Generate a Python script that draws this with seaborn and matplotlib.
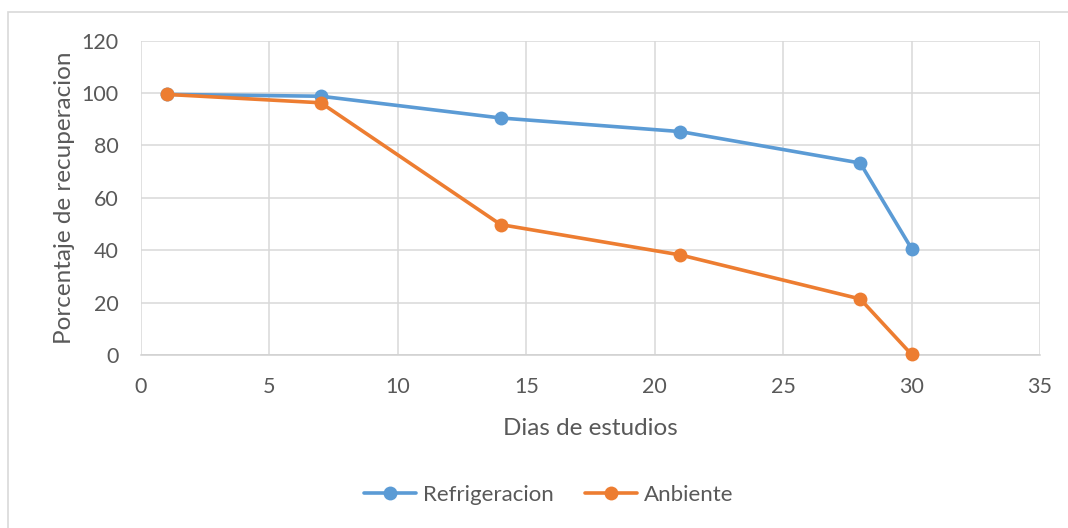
import matplotlib
matplotlib.use("Agg")
import matplotlib.pyplot as plt
from matplotlib.patches import Rectangle
from matplotlib.lines import Line2D
import seaborn as sns
import pandas as pd

# Recovery percentage over days of study
dias = [1, 7, 14, 21, 28, 30]
refrigeracion = [99.5, 98.8, 90.5, 85.3, 73.3, 40.6]
ambiente = [99.5, 96.3, 49.8, 38.2, 21.4, 0.2]
series_names = ["Refrigeracion", "Anbiente"]
x_ticks = [0, 5, 10, 15, 20, 25, 30, 35]
y_ticks = [0, 20, 40, 60, 80, 100, 120]

colors = {"Refrigeracion": "#5B9BD5", "Anbiente": "#ED7D31"}

df = pd.DataFrame({
    "dias": dias * 2,
    "valor": refrigeracion + ambiente,
    "serie": [series_names[0]] * len(dias) + [series_names[1]] * len(dias),
})

sns.set_theme(style="white")
plt.rcParams["font.family"] = ["Lato", "DejaVu Sans"]

fig = plt.figure(figsize=(10.68, 5.28), dpi=100)
ax = fig.add_axes([141 / 1068, 1 - 355 / 528, (1040 - 141) / 1068, (355 - 40.7) / 528])

sns.lineplot(data=df, x="dias", y="valor", hue="serie", palette=colors,
             marker="o", markersize=10, markeredgewidth=0, linewidth=2.6,
             ax=ax, legend=False, zorder=3)

ax.set_xlim(0, 35)
ax.set_ylim(0, 120)
ax.set_xticks(x_ticks)
ax.set_yticks(y_ticks)
ax.grid(True, color="#D9D9D9", linewidth=1.1)
for s in ax.spines.values():
    s.set_visible(False)
ax.spines["bottom"].set_visible(True)
ax.spines["bottom"].set_color("#D0D0D0")
ax.spines["bottom"].set_linewidth(1.1)
ax.tick_params(axis="both", length=0, labelsize=15.5, colors="#595959")
ax.tick_params(axis="x", pad=16)
ax.tick_params(axis="y", pad=16)
ax.set_xlabel("Dias de estudios", fontsize=17.5, color="#595959", labelpad=15)
ax.set_ylabel("Porcentaje de recuperacion", fontsize=17.5, color="#595959", labelpad=5)
for ln in ax.lines:
    ln.set_clip_on(False)

handles = [Line2D([0], [0], color=colors[n], marker="o", markersize=10,
                  markeredgewidth=0, linewidth=2.6) for n in series_names]
fig.legend(handles, series_names, loc="center", bbox_to_anchor=(548.5 / 1068, 1 - 495 / 528),
           ncol=2, frameon=False, fontsize=16, labelcolor="#595959",
           handlelength=2.35, columnspacing=1.4, handletextpad=0.3)

fig.patches.append(Rectangle((8 / 1068, -0.05), 1.1, 1 - 12 / 528 + 0.05,
                             transform=fig.transFigure, fill=False,
                             edgecolor="#D9D9D9", linewidth=1.2))

fig.savefig("out.png", dpi=100, facecolor="white")
